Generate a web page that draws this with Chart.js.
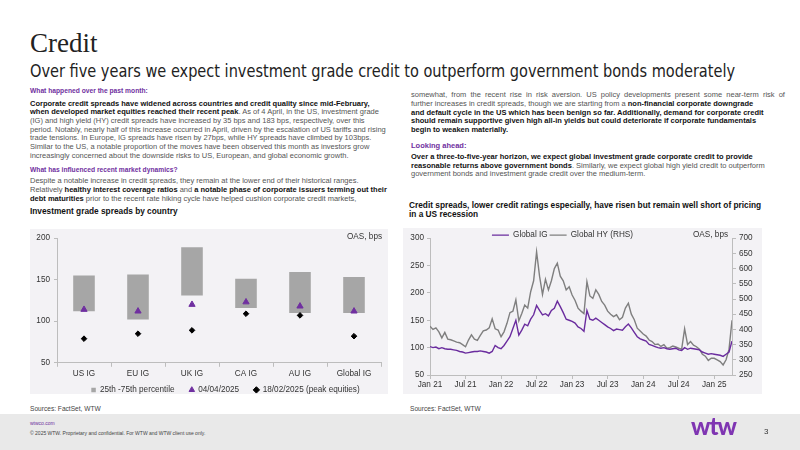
<!DOCTYPE html>
<html>
<head>
<meta charset="utf-8">
<script src="https://cdn.jsdelivr.net/npm/chart.js@4.4.1/dist/chart.umd.min.js"></script>
<style>
  body { margin: 0; width: 800px; height: 450px; position: relative; overflow: hidden; background: #fff; font-family: "Liberation Sans", Arial, sans-serif; }
  .abs { position: absolute; white-space: nowrap; }
  .title { left: 30px; top: 28px; font-family: "Liberation Serif", serif; font-size: 27px; color: #222; }
  .subtitle { left: 30px; top: 61px; font-family: "DejaVu Sans Condensed", "DejaVu Sans", sans-serif; font-size: 17.5px; color: #222; transform-origin: 0 0; }
  .txt { font-size: 7.5px; line-height: 8.7px; color: #555; }
  .txt b { color: #111; }
  .head { font-size: 6.7px; font-weight: bold; color: #7030a0; line-height: 8.7px; }
  .ctitle { font-size: 8.3px; font-weight: bold; color: #111; line-height: 8.8px; }
  .panel { background: #f3f2f5; }
  .small { font-size: 8.2px; color: #333; }
  .src { font-size: 6.6px; color: #444; }
  .foot { left: 0; top: 414px; width: 800px; height: 36px; background: #e9e9e9; }
  canvas { position: absolute; }
</style>
</head>
<body>
<div class="abs title">Credit</div>
<div class="abs subtitle" id="subtitle">Over five years we expect investment grade credit to outperform government bonds moderately</div>

<div class="abs head" style="left:30px;top:87.4px">What happened over the past month:</div>
<div class="abs txt" style="left:30px;top:99.6px">
  <div><b>Corporate credit spreads have widened across countries and credit quality since mid-February,</b></div>
  <div><b>when developed market equities reached their recent peak</b>. As of 4 April, in the US, investment grade</div>
  <div>(IG) and high yield (HY) credit spreads have increased by 35 bps and 183 bps, respectively, over this</div>
  <div>period. Notably, nearly half of this increase occurred in April, driven by the escalation of US tariffs and rising</div>
  <div>trade tensions. In Europe, IG spreads have risen by 27bps, while HY spreads have climbed by 103bps.</div>
  <div>Similar to the US, a notable proportion of the moves have been observed this month as investors grow</div>
  <div>increasingly concerned about the downside risks to US, European, and global economic growth.</div>
</div>
<div class="abs head" style="left:30px;top:165.7px">What has influenced recent market dynamics?</div>
<div class="abs txt" style="left:30px;top:177.3px">
  <div>Despite a notable increase in credit spreads, they remain at the lower end of their historical ranges.</div>
  <div>Relatively <b>healthy interest coverage ratios</b> and <b>a notable phase of corporate issuers terming out their</b></div>
  <div><b>debt maturities</b> prior to the recent rate hiking cycle have helped cushion corporate credit markets,</div>
</div>
<div class="abs ctitle" style="left:30px;top:207.3px">Investment grade spreads by country</div>

<div class="abs txt" style="left:411px;top:91.3px">
  <div style="word-spacing:2px">somewhat, from the recent rise in risk aversion. US policy developments present some near-term risk of</div>
  <div>further increases in credit spreads, though we are starting from a <b>non-financial corporate downgrade</b></div>
  <div><b>and default cycle in the US which has been benign so far. Additionally, demand for corporate credit</b></div>
  <div><b>should remain supportive given high all-in yields but could deteriorate if corporate fundamentals</b></div>
  <div><b>begin to weaken materially.</b></div>
</div>
<div class="abs head" style="left:411px;top:141.6px;font-size:7.5px">Looking ahead:</div>
<div class="abs txt" style="left:411px;top:153px">
  <div><b>Over a three-to-five-year horizon, we expect global investment grade corporate credit to provide</b></div>
  <div><b>reasonable returns above government bonds</b>. Similarly, we expect global high yield credit to outperform</div>
  <div>government bonds and investment grade credit over the medium-term.</div>
</div>
<div class="abs ctitle" style="left:409px;top:201.3px">
  <div>Credit spreads, lower credit ratings especially, have risen but remain well short of pricing</div>
  <div>in a US recession</div>
</div>

<div class="abs panel" style="left:30px;top:229px;width:358px;height:165px"></div>
<div class="abs panel" style="left:403px;top:228px;width:359px;height:166px"></div>
<div class="abs src" style="left:30px;top:405px">Sources: FactSet, WTW</div>
<div class="abs src" style="left:410px;top:405px">Sources: FactSet, WTW</div>
<canvas id="barChart" style="left:30px;top:229px;width:358px;height:187px" width="358" height="187"></canvas>
<canvas id="lineChart" style="left:403px;top:218px;width:359px;height:176px" width="359" height="176"></canvas>
<div class="abs small" style="left:347px;top:232px">OAS, bps</div>
<div class="abs small" style="left:693px;top:230px">OAS, bps</div>

<div class="abs foot"></div>
<div class="abs" style="left:30px;top:420px;font-size:5px;color:#7030a0">wtwco.com</div>
<div class="abs" style="left:30px;top:429.5px;font-size:5px;color:#444">© 2025 WTW. Proprietary and confidential. For WTW and WTW client use only.</div>
<div class="abs" style="left:691px;top:411px;font-family:Lato,sans-serif;font-weight:900;font-size:24px;color:#7f35b2;letter-spacing:-1px">wtw</div>
<div class="abs" style="left:764px;top:427px;font-size:8px;color:#333">3</div>

<script>
// bar chart: IG spreads by country
const countries = ['US IG', 'EU IG', 'UK IG', 'CA IG', 'AU IG', 'Global IG'];
const pct25 = [112, 102, 131, 116, 110, 110];
const pct75 = [155, 156, 189, 151, 159, 153];
const spreadApr = [114, 112, 120, 123, 118, 112];
const spreadFeb = [79, 85, 89, 109, 107, 82];

// line chart: semi-monthly OAS, Jan 2021 - Apr 2025
const dateTicks = ['Jan 21', 'Jul 21', 'Jan 22', 'Jul 22', 'Jan 23', 'Jul 23', 'Jan 24', 'Jul 24', 'Jan 25'];
const igSpread = [
  102, 100, 101, 98, 100, 98, 97, 97, 96, 95,
  93, 92, 90, 91, 92, 93, 93, 94, 93, 92,
  90, 93, 104, 100, 98, 104, 112, 120, 135, 150,
  123, 132, 143, 140, 152, 160, 177, 168, 160, 162,
  158, 168, 172, 185, 175, 164, 152, 150, 148, 145,
  138, 135, 130, 168, 152, 150, 154, 150, 146, 142,
  138, 135, 131, 134, 133, 132, 138, 143, 136, 128,
  120, 116, 114, 112, 106, 104, 102, 100, 99, 100,
  98, 97, 98, 99, 96, 95, 100, 97, 99, 98,
  97, 96, 92, 90, 88, 89, 88, 87, 86, 84,
  88, 92, 112
];
const hySpread = [
  410, 400, 405, 392, 372, 390, 368, 366, 362, 358,
  356, 350, 343, 365, 382, 368, 364, 380, 395, 398,
  405, 435, 402, 398, 376, 392, 420, 455, 460, 497,
  428, 452, 480, 470, 524, 560, 655, 575, 515, 565,
  530, 560, 600, 618, 575, 560, 530, 540, 513, 495,
  470, 460, 452, 557, 510, 502, 530, 515, 492, 480,
  460, 450, 442, 448, 432, 440, 470, 486, 450, 432,
  404, 395, 385, 378, 365, 360, 350, 352, 344, 350,
  338, 340, 345, 342, 338, 335, 402, 350, 360, 348,
  343, 335, 318, 312, 298, 305, 305, 300, 294, 283,
  300, 335, 430
];

Chart.defaults.font.family = '"Liberation Sans", Arial, sans-serif';
Chart.defaults.color = '#333';

// moves a legend box after layout so it can sit where the slide has it
const legendNudge = {
  id: 'legendNudge',
  afterLayout(chart, args, opts) {
    const l = chart.legend;
    if (!l) return;
    l.left += opts.dx || 0; l.right += opts.dx || 0;
    l.top += opts.dy || 0; l.bottom += opts.dy || 0;
  }
};

const axisColor = '#bdbdbd';
const tickFont = {size: 8.2};

new Chart(document.getElementById('barChart'), {
  type: 'bar',
  data: {
    labels: countries,
    datasets: [
      {
        label: '25th -75th percentile',
        data: pct25.map((v, i) => [v, pct75[i]]),
        backgroundColor: '#a6a6a6',
        barPercentage: 0.4,
        categoryPercentage: 1,
        pointStyle: 'rect',
        order: 3
      },
      {
        type: 'line',
        label: '04/04/2025',
        data: spreadApr,
        showLine: false,
        pointStyle: 'triangle',
        pointRadius: 3.6,
        backgroundColor: '#7030a0',
        borderColor: '#7030a0',
        order: 1
      },
      {
        type: 'line',
        label: '18/02/2025 (peak equities)',
        data: spreadFeb,
        showLine: false,
        pointStyle: 'rectRot',
        pointRadius: 2.8,
        backgroundColor: '#000',
        borderColor: '#000',
        order: 2
      }
    ]
  },
  options: {
    animation: false,
    responsive: false,
    layout: {padding: {top: 9, right: 7, bottom: 0}},
    plugins: {
      tooltip: {enabled: false},
      legend: {
        position: 'bottom',
        labels: {usePointStyle: true, boxWidth: 4.5, boxHeight: 4.5, padding: 15, font: {size: 8.2}, color: '#333',
          sort: (a, b) => a.datasetIndex - b.datasetIndex}
      },
      legendNudge: {dx: 20, dy: -12}
    },
    scales: {
      x: {
        grid: {drawOnChartArea: false, tickLength: 4, color: axisColor},
        border: {color: axisColor},
        ticks: {font: tickFont, padding: 2, color: '#333'},
        afterFit: s => { s.height = 20; }
      },
      y: {
        min: 50, max: 200,
        grid: {drawOnChartArea: false, tickLength: 3, color: axisColor},
        border: {color: axisColor},
        ticks: {stepSize: 50, font: tickFont, padding: 4, color: '#333'},
        afterFit: s => { s.width = 27; }
      }
    }
  },
  plugins: [legendNudge]
});

new Chart(document.getElementById('lineChart'), {
  type: 'line',
  data: {
    datasets: [
      {
        label: 'Global IG',
        data: igSpread.map((v, i) => ({x: i / 2, y: v})),
        borderColor: '#6a2c9e',
        backgroundColor: '#6a2c9e',
        borderWidth: 1.4,
        pointRadius: 0,
        yAxisID: 'y',
        order: 1
      },
      {
        label: 'Global HY (RHS)',
        data: hySpread.map((v, i) => ({x: i / 2, y: v})),
        borderColor: '#7f7f7f',
        backgroundColor: '#7f7f7f',
        borderWidth: 1.4,
        pointRadius: 0,
        yAxisID: 'y1',
        order: 2
      }
    ]
  },
  options: {
    animation: false,
    responsive: false,
    layout: {padding: {top: 0}},
    plugins: {
      tooltip: {enabled: false},
      legend: {
        position: 'top',
        labels: {usePointStyle: true, pointStyle: 'line', pointStyleWidth: 17, padding: 2, font: {size: 8.2}, color: '#333',
          sort: (a, b) => a.datasetIndex - b.datasetIndex}
      },
      legendNudge: {dx: -20, dy: 11}
    },
    scales: {
      x: {
        type: 'linear',
        min: 0, max: 51,
        grid: {drawOnChartArea: false, tickLength: 4, color: axisColor},
        border: {color: axisColor},
        ticks: {stepSize: 6, includeBounds: false, font: tickFont, padding: 1, color: '#333', maxRotation: 0,
          callback: v => dateTicks[v / 6] ?? ''},
        afterFit: s => { s.height = 19; }
      },
      y: {
        position: 'left',
        min: 50, max: 300,
        grid: {drawOnChartArea: false, tickLength: 3, color: axisColor},
        border: {color: axisColor},
        ticks: {stepSize: 50, font: tickFont, padding: 3, color: '#333'},
        afterFit: s => { s.width = 27; }
      },
      y1: {
        position: 'right',
        min: 250, max: 700,
        grid: {drawOnChartArea: false, tickLength: 4, color: axisColor},
        border: {color: axisColor},
        ticks: {stepSize: 50, font: tickFont, padding: 3, color: '#333'},
        afterFit: s => { s.width = 30; }
      }
    }
  },
  plugins: [legendNudge]
});

// squeeze the subtitle to the slide's width
const sub = document.getElementById('subtitle');
sub.style.transform = 'scaleX(' + (705 / sub.offsetWidth) + ')';
</script>
</body>
</html>
